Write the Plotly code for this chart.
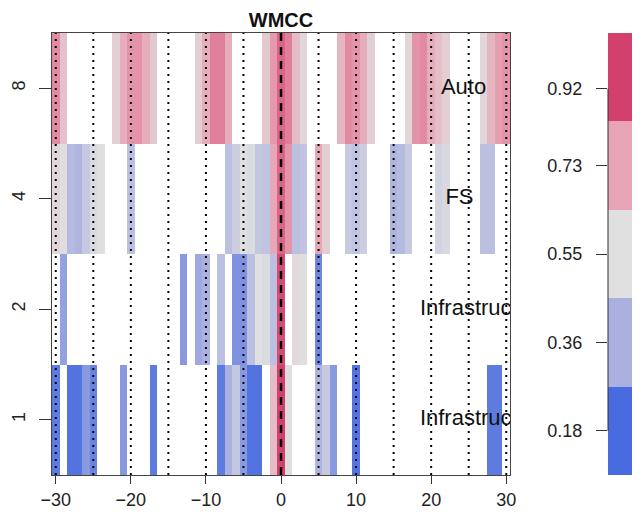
import plotly.graph_objects as go

N = None

# lags (x categories) and scale rows (y categories)
lags = list(range(-30, 31))
scale_labels = ["1", "2", "4", "8"]
row_names = ["Infrastructure", "Infrastructure", "FS", "Auto"]

# correlation values per scale (None = not significant / blank)
row_scale8 = [0.78, 0.64, N, N, N, N, N, N, 0.60, 0.70, 0.76, 0.76, 0.70, 0.62, N, N, N, N, N,
              0.60, 0.70, 0.80, 0.80, 0.70, N, N, N, N, 0.62, 0.75,
              0.85,
              0.80, 0.66, 0.58, N, N, N, N, 0.68, 0.78, 0.76, 0.70, 0.60, N, N, N, N,
              0.58, 0.76, 0.78, 0.70, 0.65, 0.60, N, N, N, N, 0.58, 0.68, 0.74, 0.76]
row_scale4 = [0.58, 0.56, 0.40, 0.38, 0.46, 0.53, 0.55, N, N, N, 0.42, N, N, N, N, N, N,
              N, N, N, N, N, N, 0.42, 0.48, 0.55, 0.53, 0.45, 0.44, 0.72,
              0.85,
              0.76, 0.42, 0.44, N, 0.72, 0.60, N, N, 0.46, 0.44, 0.48, N, N, N, 0.38, 0.40,
              0.46, N, N, N, 0.50, 0.52, N, N, N, N, 0.42, 0.42, N, N]
row_scale2 = [N, 0.32, N, N, N, N, N, N, N, N, N, N, N, N, N, N, N,
              0.30, N, 0.34, 0.36, N, 0.42, N, 0.28, 0.28, 0.42, 0.55, 0.53, 0.42,
              0.90,
              N, 0.57, 0.56, N, 0.25, N, N, N, N, N, N, N, N, N, N, N,
              N, N, N, N, N, N, N, N, N, N, N, N, N, N]
row_scale1 = [0.22, N, 0.20, 0.20, 0.30, 0.24, N, N, N, 0.30, N, N, N, 0.22, N, N, N,
              N, N, N, N, N, 0.22, 0.36, 0.45, 0.30, 0.20, 0.20, N, 0.66,
              0.95,
              0.56, N, N, N, 0.38, 0.46, 0.30, N, N, 0.20, N, N, N, N, N, N,
              N, N, N, N, N, N, N, N, N, N, N, 0.22, 0.22, N]

# reference lines
dotted_lags = [-30, -25, -20, -15, -10, -5, 5, 10, 15, 20, 25, 30]
dashed_lags = [0]
x_ticks = [-30, -20, -10, 0, 10, 20, 30]

# legend breaks
legend_levels = [0.18, 0.36, 0.55, 0.73, 0.92]
legend_labels = ["0.18", "0.36", "0.55", "0.73", "0.92"]

colors = ["rgb(72,108,224)", "rgb(170,176,224)", "rgb(224,224,224)",
          "rgb(231,164,181)", "rgb(212,64,108)"]
lo, hi = legend_levels[0], legend_levels[-1]
cscale = [[(v - lo) / (hi - lo), c] for v, c in zip(legend_levels, colors)]

FONT = "Liberation Sans, Arial, sans-serif"

fig = go.Figure()

z = [row_scale1, row_scale2, row_scale4, row_scale8]
fig.add_trace(go.Heatmap(
    x=lags, y=list(range(len(scale_labels))), z=z,
    colorscale=cscale, zmin=lo, zmax=hi, showscale=False,
    xaxis="x", yaxis="y", hoverongaps=False,
))

label_x = [18.5, 18.5, 21.9, 21.3]
fig.add_trace(go.Scatter(
    x=label_x, y=list(range(len(row_names))), text=row_names,
    mode="text", textposition="middle right", cliponaxis=True,
    textfont=dict(family=FONT, size=22, color="#111"),
    showlegend=False, hoverinfo="skip", xaxis="x", yaxis="y",
))

# legend bar
fig.add_trace(go.Heatmap(
    x=[0], y=list(range(len(legend_levels))),
    z=[[v] for v in legend_levels],
    colorscale=cscale, zmin=lo, zmax=hi, showscale=False,
    xaxis="x2", yaxis="y2",
))

shapes = []
for L in dotted_lags:
    shapes.append(dict(type="line", xref="x", yref="y domain", x0=L, x1=L, y0=0, y1=1,
                       line=dict(color="black", width=2, dash="2px,5px"), layer="above"))
for L in dashed_lags:
    shapes.append(dict(type="line", xref="x", yref="y domain", x0=L, x1=L, y0=0, y1=1,
                       line=dict(color="black", width=2.5, dash="8px,6px"), layer="above"))
leg_tickpos = [0, 1, 2, 3, 3.87]
shapes.append(dict(type="line", xref="x2 domain", yref="y2", x0=0, x1=0,
                   y0=leg_tickpos[0], y1=leg_tickpos[-1],
                   line=dict(color="#333", width=1)))

# the page body has an 8px margin: figure coords = picture coords - 8
OFF = 8
W, H = 640 - OFF, 516 - OFF
left, right, top, bottom = 52 - OFF, 510 - OFF, 33 - OFF, 475 - OFF
ml, mr, mt, mb = left, 0, top, H - bottom
pw = W - ml - mr

fig.update_layout(
    width=W, height=H,
    margin=dict(l=ml, r=mr, t=mt, b=mb, autoexpand=False),
    paper_bgcolor="white", plot_bgcolor="white",
    font=dict(family=FONT, color="#222"),
    showlegend=False,
    shapes=shapes,
    title=dict(text="<b>WMCC</b>", x=(281 - OFF) / W, xanchor="center", xref="container",
               y=1 - 5 / H, yanchor="top", yref="container", pad=dict(t=0, b=0),
               font=dict(family=FONT, size=20, color="#111")),
    xaxis=dict(domain=[0, (right - ml) / pw], range=[-30.5, 30.5],
               tickvals=x_ticks, ticks="outside", ticklen=8, tickcolor="#333",
               tickfont=dict(size=18, color="#222"),
               showline=True, mirror=True, linecolor="#444", linewidth=1,
               showgrid=False, zeroline=False),
    yaxis=dict(domain=[0, 1], range=[-0.5, 3.5],
               tickvals=list(range(len(scale_labels))), ticktext=scale_labels,
               tickangle=-90, ticks="outside", ticklen=12, tickcolor="#333",
               tickfont=dict(size=18, color="#222"), ticklabelstandoff=7,
               showline=True, mirror=True, linecolor="#444", linewidth=1,
               showgrid=False, zeroline=False),
    xaxis2=dict(domain=[(608 - OFF - ml) / pw, 1], anchor="y2", visible=False,
                range=[-0.5, 0.5]),
    yaxis2=dict(domain=[0, 1], anchor="x2", side="left", range=[-0.5, 4.5],
                tickvals=leg_tickpos, ticktext=legend_labels,
                ticks="outside", ticklen=11, tickcolor="#333",
                tickfont=dict(size=18, color="#222"), ticklabelstandoff=10,
                showline=False, showgrid=False, zeroline=False),
)

fig.write_html("out.html")
